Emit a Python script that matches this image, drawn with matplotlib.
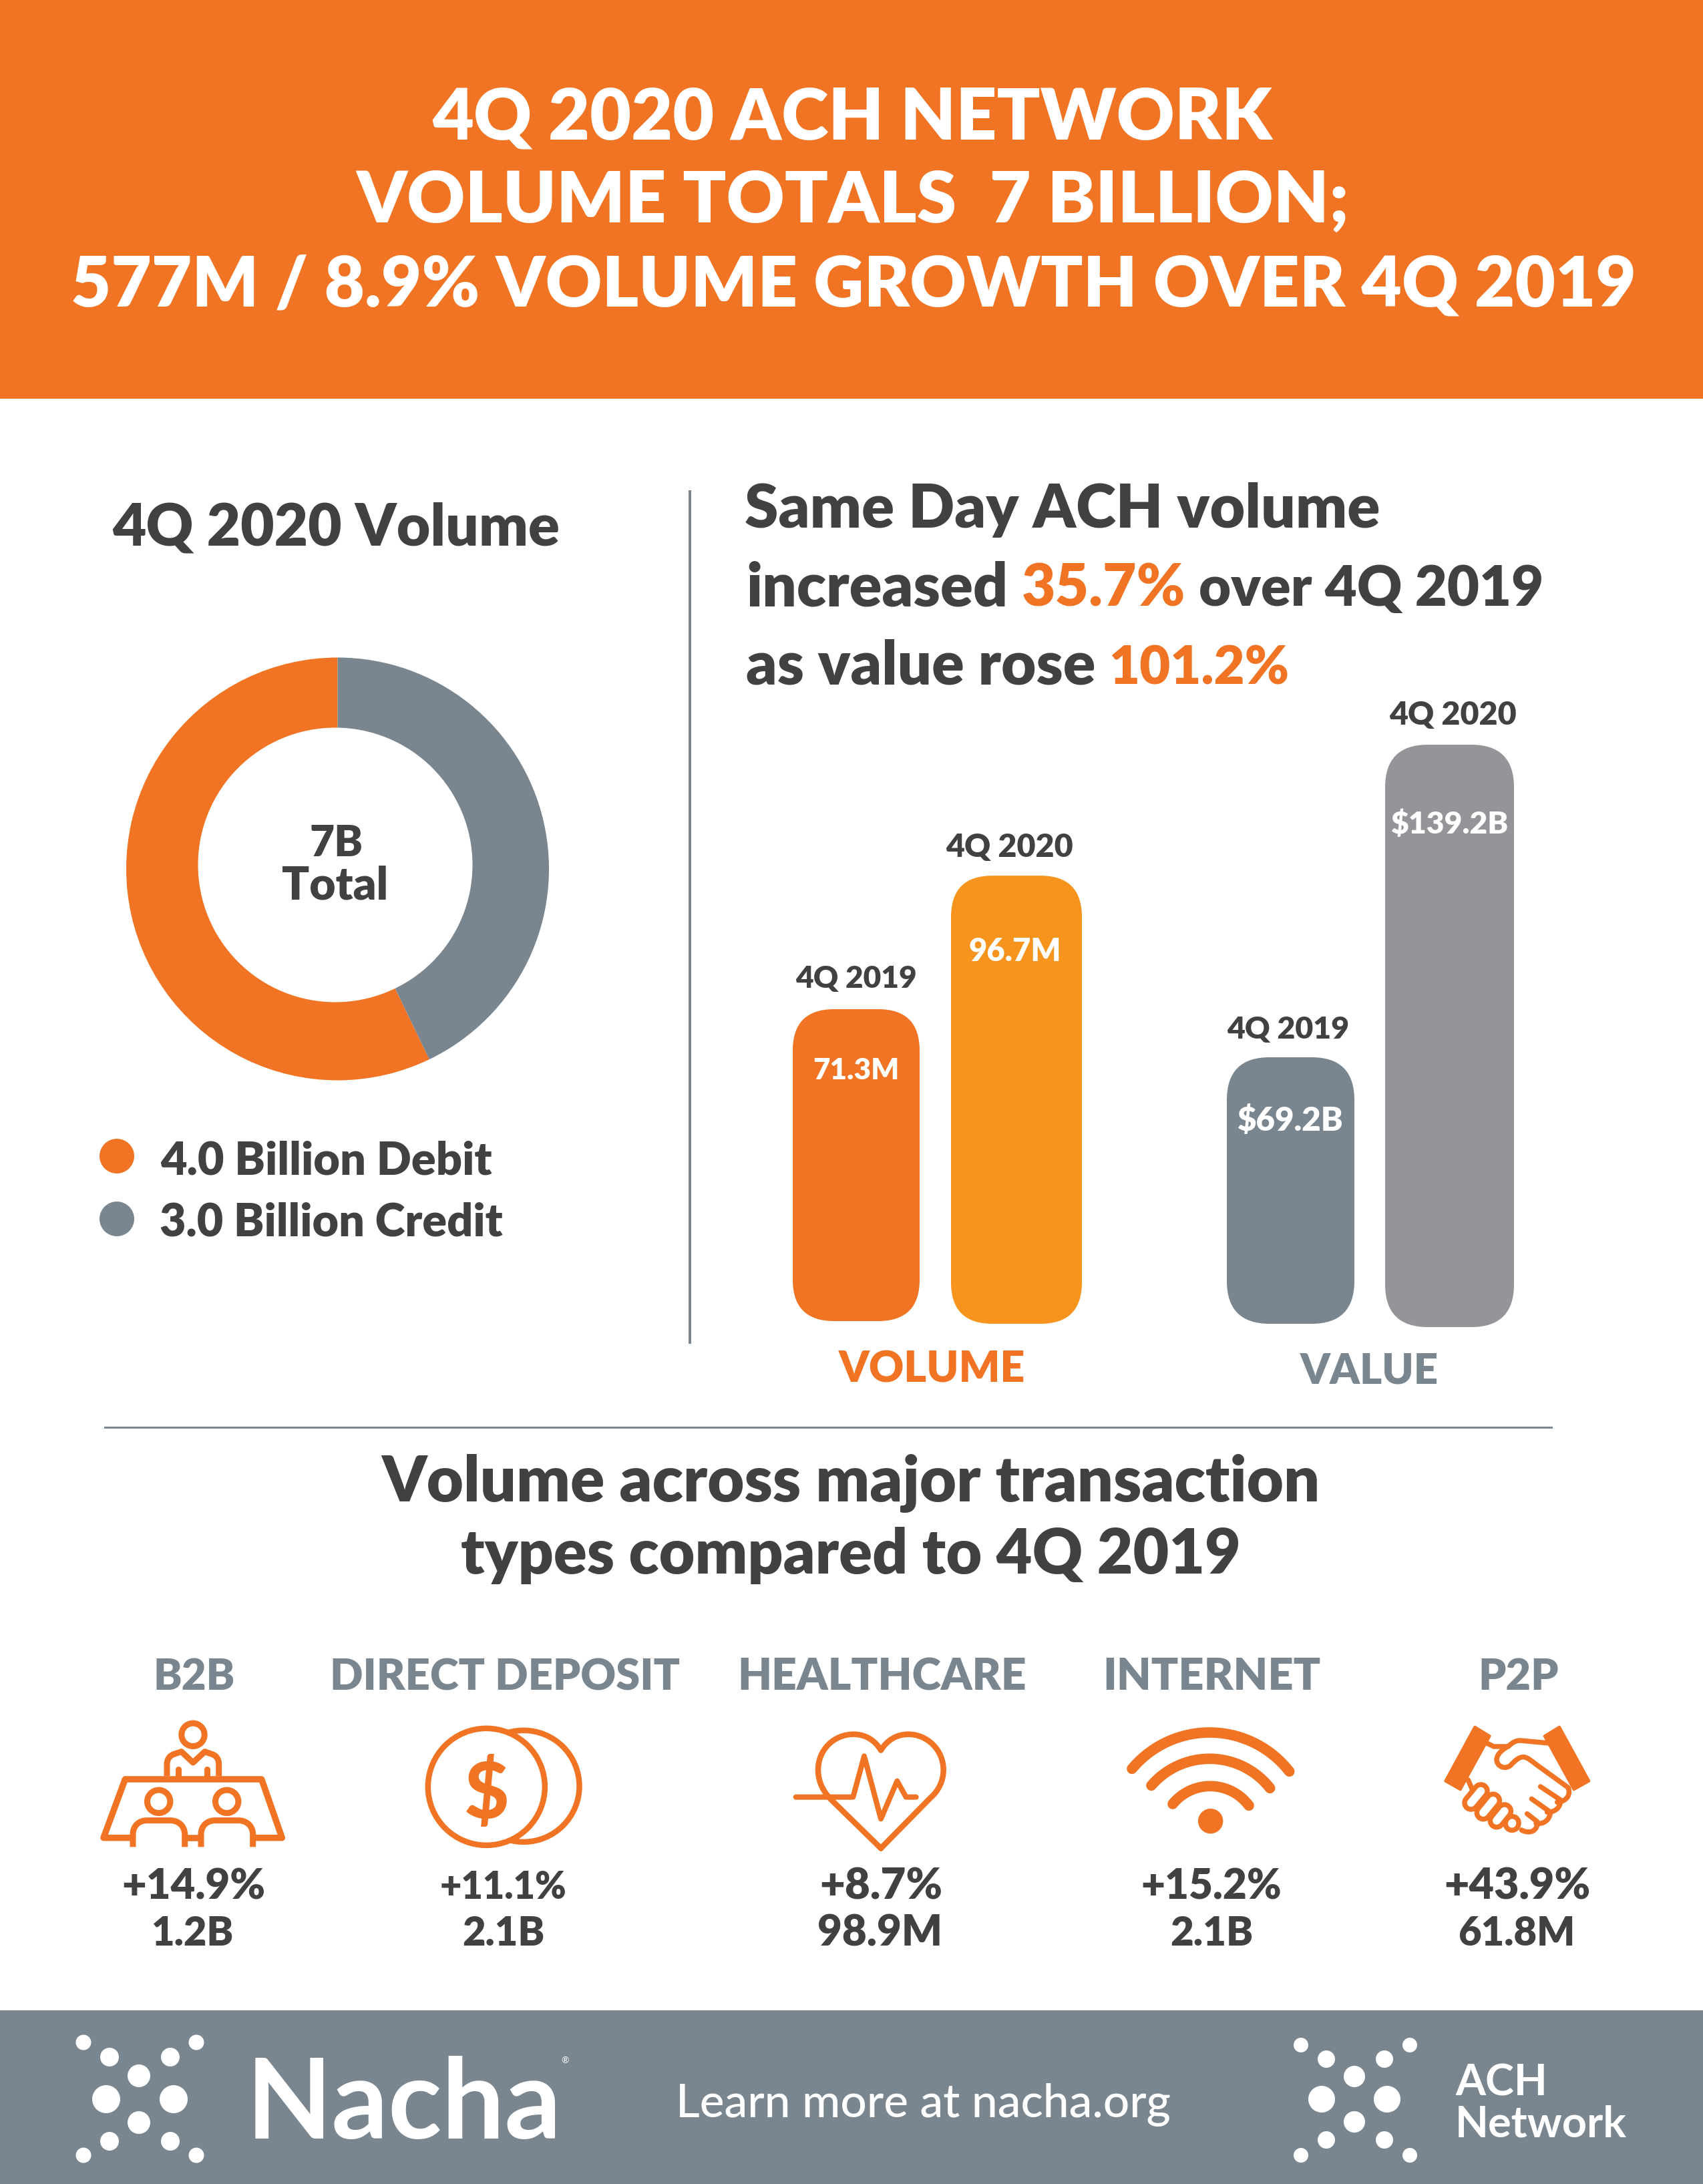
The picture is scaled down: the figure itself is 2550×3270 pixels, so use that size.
import math
import matplotlib
matplotlib.use("Agg")
import matplotlib.pyplot as plt
from matplotlib.patches import Rectangle, Circle, FancyBboxPatch, PathPatch, Polygon
from matplotlib.path import Path

# ---------- data ----------
TITLE_LINES = ["4Q 2020 ACH NETWORK", "VOLUME TOTALS  7 BILLION;", "577M / 8.9% VOLUME GROWTH OVER 4Q 2019"]
DONUT_VALUES = [4.0, 3.0]
DONUT_NAMES = ["Debit", "Credit"]
DONUT_TOTAL = "7B"
QUARTERS = ["4Q 2019", "4Q 2020"]
VOLUME_M = [71.3, 96.7]
VALUE_B = [69.2, 139.2]
TYPES = ["B2B", "DIRECT DEPOSIT", "HEALTHCARE", "INTERNET", "P2P"]
TYPE_GROWTH = ["+14.9%", "+11.1%", "+8.7%", "+15.2%", "+43.9%"]
TYPE_VOLUME = ["1.2B", "2.1B", "98.9M", "2.1B", "61.8M"]

# ---------- style ----------
ORANGE = "#F07423"
AMBER = "#F7941E"
SLATE = "#798690"
GREY = "#939598"
DARK = "#414042"
WHITE = "#FFFFFF"
FONT = "Lato"
HEAVY = 800
W, H, DPI = 2550, 3270, 100
PT = 72 / DPI

fig = plt.figure(figsize=(W / DPI, H / DPI), dpi=DPI, facecolor=WHITE)
ax = fig.add_axes([0, 0, 1, 1])
ax.set_xlim(0, W)
ax.set_ylim(H, 0)
ax.axis("off")
ax.set_zorder(5)
renderer = fig.canvas.get_renderer()


def T(s, x0, x1, base, color=DARK, weight=HEAVY, target=ax):
    t = target.text(x0, base, s, ha="left", va="baseline", color=color,
                    fontfamily=FONT, fontweight=weight, fontsize=40)
    w = t.get_window_extent(renderer).width
    t.set_fontsize(40 * (x1 - x0) / w)
    return t


def build(spec, ox, oy, s=3.0):
    verts, codes = [], []
    for seg in spec:
        k, *c = seg
        pts = [(ox + c[i] / s, oy + c[i + 1] / s) for i in range(0, len(c), 2)]
        verts += pts
        codes += {"M": [Path.MOVETO], "L": [Path.LINETO],
                  "C": [Path.CURVE4] * 3}[k]
    return Path(verts, codes)


def stroke(spec, ox, oy, lw=8.5, cap="round", color=ORANGE, face="none", z=3):
    ax.add_patch(PathPatch(build(spec, ox, oy), fc=face, ec=color, lw=lw * PT,
                           capstyle=cap, joinstyle="round", zorder=z))


def ring(cx, cy, r, lw, face="none", z=3):
    ax.add_patch(Circle((cx, cy), r, fc=face, ec=ORANGE, lw=lw * PT, zorder=z))


def arc3(p, q, r, ox, oy, lw, n=40):
    ax1, ay1 = p; bx, by = q; cx, cy = r
    d = 2 * (ax1 * (by - cy) + bx * (cy - ay1) + cx * (ay1 - by))
    ux = ((ax1**2 + ay1**2) * (by - cy) + (bx**2 + by**2) * (cy - ay1) + (cx**2 + cy**2) * (ay1 - by)) / d
    uy = ((ax1**2 + ay1**2) * (cx - bx) + (bx**2 + by**2) * (ax1 - cx) + (cx**2 + cy**2) * (bx - ax1)) / d
    rad = math.hypot(ax1 - ux, ay1 - uy)
    a0 = math.atan2(ay1 - uy, ax1 - ux)
    a1 = math.atan2(cy - uy, cx - ux)
    if a1 < a0:
        a1 += 2 * math.pi
    spec = []
    for i in range(n + 1):
        a = a0 + (a1 - a0) * i / n
        spec.append(("M" if i == 0 else "L", ux + rad * math.cos(a), uy + rad * math.sin(a)))
    stroke(spec, ox, oy, lw=lw)


# ---------- bands ----------
ax.add_patch(Rectangle((0, 0), W, 597, fc=ORANGE, ec="none", zorder=0.5))
ax.add_patch(Rectangle((0, 3010), W, H - 3010, fc=SLATE, ec="none", zorder=0.5))
for s, x0, x1, b in zip(TITLE_LINES, (647, 533, 106), (1903, 2020, 2447), (208, 333, 458)):
    T(s, x0, x1, b, WHITE)

# ---------- dividers ----------
ax.add_patch(Rectangle((1031, 734), 4, 1278, fc=SLATE, ec="none"))
ax.add_patch(Rectangle((156, 2136), 2169, 3, fc=SLATE, ec="none"))

# ---------- donut ----------
T("4Q 2020 Volume", 168, 837, 816)
cx, cy, R = 505.5, 1301, 316.5
pax = fig.add_axes([(cx - R) / W, 1 - (cy + R) / H, 2 * R / W, 2 * R / H])
pax.pie(DONUT_VALUES, colors=[ORANGE, SLATE], startangle=90, counterclock=True, radius=1.0)
pax.set_xlim(-1, 1)
pax.set_ylim(-1, 1)
pax.set_aspect("auto")
pax.axis("off")
pax.add_patch(Circle(((502 - cx) / R, (cy - 1295) / R), 205.5 / R, fc=WHITE, ec="none", zorder=5))
T(DONUT_TOTAL, 463, 543, 1282)
T("Total", 422, 581, 1346)
ax.add_patch(Circle((175, 1731), 26, fc=ORANGE, ec="none"))
ax.add_patch(Circle((175, 1825), 26, fc=SLATE, ec="none"))
T(f"{DONUT_VALUES[0]:.1f} Billion {DONUT_NAMES[0]}", 240, 736, 1758)
T(f"{DONUT_VALUES[1]:.1f} Billion {DONUT_NAMES[1]}", 239, 752, 1850)

# ---------- Same Day heading ----------
T("Same Day ACH volume", 1115, 2067, 790)
T("increased", 1117, 1509, 907)
T("35.7%", 1530, 1775, 907, ORANGE)
T("over 4Q 2019", 1795, 2311, 907)
T("as value rose", 1117, 1640, 1024)
T("101.2%", 1660, 1930, 1024, ORANGE)


# ---------- bars ----------
def bar_axes(values, slope, ref_px, bases, spans, colors, radius):
    top_px, bot_px = 1100, 2000
    ymin = values[0] - (bot_px - ref_px) / slope
    ymax = values[0] + (ref_px - top_px) / slope
    a = fig.add_axes([1150 / W, 1 - bot_px / H, 1150 / W, (bot_px - top_px) / H])
    a.set_xlim(1150, 2300)
    a.set_ylim(ymin, ymax)
    a.axis("off")
    for v, b, (x0, x1), c in zip(values, bases, spans, colors):
        a.add_patch(FancyBboxPatch((x0, b), x1 - x0, v - b,
                                   boxstyle=f"round,pad=0,rounding_size={radius}",
                                   mutation_aspect=1 / slope, fc=c, ec="none"))
    return a


bar_axes(VOLUME_M, 7.87, 1511, (11.96, 11.45), ((1187, 1377), (1424, 1620)), (ORANGE, AMBER), 62)
bar_axes(VALUE_B, 6.686, 1583, (9.52, 8.77), ((1837, 2028), (2074, 2267)), (SLATE, GREY), 64)

T(QUARTERS[0], 1191, 1372, 1479)
T(QUARTERS[1], 1416, 1606, 1283)
T(QUARTERS[0], 1837, 2020, 1555)
T(QUARTERS[1], 2080, 2270, 1085)
T(f"{VOLUME_M[0]}M", 1217, 1346, 1616, WHITE)
T(f"{VOLUME_M[1]}M", 1450, 1588, 1439, WHITE)
T(f"${VALUE_B[0]}B", 1852, 2011, 1693, WHITE)
T(f"${VALUE_B[1]}B", 2082, 2258, 1248, WHITE)
T("VOLUME", 1256, 1535, 2069, ORANGE)
T("VALUE", 1947, 2154, 2071, SLATE)

# ---------- transaction types ----------
T("Volume across major transaction", 571, 1977, 2248)
T("types compared to 4Q 2019", 690, 1856, 2356)
for s, a, b in zip(TYPES, (230, 494, 1104, 1651, 2213), (352, 1017, 1536, 1976, 2333)):
    T(s, a, b, 2530, SLATE)
for s, a, b in zip(TYPE_GROWTH, (182, 659, 1227, 1708, 2162), (397, 849, 1411, 1918, 2381)):
    T(s, a, b, 2843)
for s, a, b in zip(TYPE_VOLUME, (227, 692, 1224, 1752, 2183), (350, 815, 1411, 1876, 2358)):
    T(s, a, b, 2913)

# icon: B2B
ox, oy = 130, 2560
ring(ox + 477 / 3, oy + 112 / 3, 17.2, 9)
stroke([("M", 360, 298), ("L", 360, 245), ("C", 360, 215, 380, 202, 395, 198), ("L", 425, 188),
        ("L", 477, 237), ("L", 530, 188), ("L", 558, 198), ("C", 575, 202, 593, 215, 593, 245),
        ("L", 593, 298)], ox, oy, lw=9, cap="butt")
stroke([("M", 411, 267), ("L", 411, 298)], ox, oy, lw=9)
stroke([("M", 541, 267), ("L", 541, 298)], ox, oy, lw=9)
stroke([("M", 200, 575), ("L", 75, 575), ("L", 172, 312), ("L", 785, 312), ("L", 877, 575), ("L", 750, 575)],
       ox, oy, lw=9.5, cap="butt")
stroke([("M", 450, 575), ("L", 505, 575)], ox, oy, lw=9.5, cap="butt")
for d in (0, 306):
    ring(ox + (323 + d) / 3, oy + 412 / 3, 17.2, 9)
    stroke([("M", 207 + d, 616), ("L", 207 + d, 560), ("C", 207 + d, 520, 235 + d, 497, 270 + d, 497),
            ("L", 375 + d, 497), ("C", 410 + d, 497, 440 + d, 520, 440 + d, 560), ("L", 440 + d, 616)],
           ox, oy, lw=9, cap="butt")

# icon: coins
ox, oy = 620, 2560
ring(ox + 492 / 3, oy + 343 / 3, 83.5, 8.5, z=3)
ring(ox + 325 / 3, oy + 346 / 3, 87.5, 8.5, face=WHITE, z=3.1)
ax.text(ox + 326 / 3, oy + 350 / 3, "$", ha="center", va="center_baseline", color=ORANGE,
        fontfamily=FONT, fontweight="black", fontsize=84, zorder=4)

# icon: heart
ox, oy = 1170, 2570
stroke([("M", 447, 592), ("L", 225, 375), ("C", 190, 340, 165, 295, 165, 240),
        ("C", 165, 150, 235, 80, 325, 80), ("C", 375, 80, 420, 105, 447, 152),
        ("C", 475, 105, 520, 80, 570, 80), ("C", 655, 80, 728, 150, 728, 240),
        ("C", 728, 290, 705, 335, 670, 365), ("L", 447, 592)], ox, oy, lw=8.5)
stroke([("M", 65, 362), ("L", 322, 362), ("L", 372, 178), ("L", 447, 460), ("L", 520, 290),
        ("L", 560, 362), ("L", 605, 362)], ox, oy, lw=8)

# icon: wifi
ox, oy = 1670, 2570
arc3((75, 235), (428, 72), (782, 247), ox, oy, 15.7)
arc3((162, 310), (428, 190), (695, 322), ox, oy, 15.7)
arc3((258, 393), (428, 313), (600, 400), ox, oy, 15.7)
ax.add_patch(Circle((ox + 428 / 3, oy + 470 / 3), 18.7, fc=ORANGE, ec="none", zorder=3))

# icon: handshake
ox, oy = 2140, 2570
for pts in ([(205, 47), (272, 88), (140, 328), (73, 290)], [(585, 47), (518, 88), (650, 328), (718, 290)]):
    ax.add_patch(Polygon([(ox + x / 3, oy + y / 3) for x, y in pts], closed=True, fc=ORANGE, ec=ORANGE,
                         lw=4 * PT, joinstyle="round", zorder=3))
stroke([("M", 255, 118), ("L", 290, 135), ("L", 355, 135), ("C", 375, 115, 390, 108, 410, 108), ("L", 540, 120)],
       ox, oy, lw=7.5)
stroke([("M", 345, 140), ("C", 320, 155, 303, 175, 303, 195), ("C", 305, 225, 340, 240, 365, 220),
        ("C", 385, 200, 400, 182, 425, 182), ("C", 445, 185, 460, 200, 480, 215), ("L", 625, 320),
        ("C", 640, 365, 600, 385, 575, 385)], ox, oy, lw=7.5)
stroke([("M", 500, 315), ("L", 590, 375), ("C", 590, 415, 560, 430, 530, 430)], ox, oy, lw=7.5)
stroke([("M", 460, 370), ("L", 545, 430), ("C", 540, 470, 510, 485, 480, 480)], ox, oy, lw=7.5)
stroke([("M", 440, 437), ("L", 485, 472), ("C", 490, 515, 450, 530, 415, 510)], ox, oy, lw=7.5)
stroke([("M", 175, 285), ("L", 192, 325)], ox, oy, lw=7.5)
caps = [((232, 335), (188, 388)), ((287, 378), (243, 432)), ((338, 425), (303, 468)), ((373, 478), (372, 482))]
for p, q in caps:
    stroke([("M", *p), ("L", *q)], ox, oy, lw=27, z=3.2)
for p, q in caps:
    stroke([("M", *p), ("L", *q)], ox, oy, lw=12, color=WHITE, z=3.3)

# ---------- footer ----------
for dots in (
    [(125, 3058, 11.5), (294, 3058, 11.5), (164, 3080, 14), (255, 3080, 14), (208, 3108, 17), (159, 3143, 21),
     (260, 3143, 21), (208, 3178, 17), (164, 3206, 14), (255, 3206, 14), (125, 3227, 11.5), (294, 3227, 11.5)],
    [(1948, 3062, 11), (2111, 3062, 11), (1986, 3083, 13), (2073, 3083, 13), (2028, 3109, 16), (1979, 3143, 20),
     (2077, 3143, 20), (2028, 3177, 16), (1986, 3204, 13), (2073, 3204, 13), (1948, 3227, 11), (2111, 3227, 11)],
):
    for x, y, r in dots:
        ax.add_patch(Circle((x, y), r, fc=WHITE, ec="none"))
T("Nacha", 369, 841, 3202, WHITE, weight="bold")
ax.text(846, 3085, "®", color=WHITE, ha="center", va="center", fontfamily=FONT, fontsize=10)
T("Learn more at nacha.org", 1012, 1753, 3170, WHITE, weight="medium")
T("ACH", 2179, 2317, 3137, WHITE, weight="bold")
T("Network", 2179, 2436, 3199, WHITE, weight="bold")

fig.savefig("out.png", dpi=DPI, facecolor=WHITE)
